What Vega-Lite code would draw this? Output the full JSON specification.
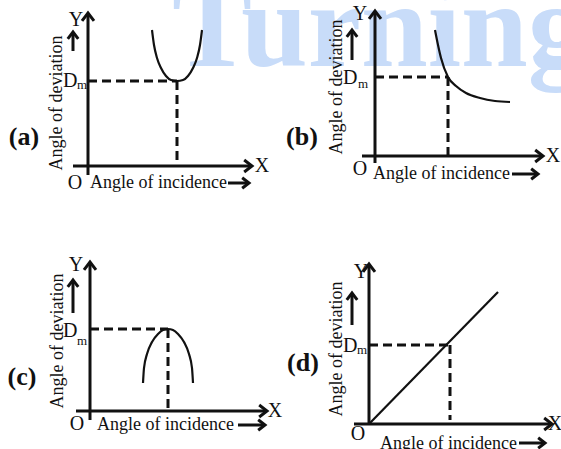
{
  "$schema": "https://vega.github.io/schema/vega-lite/v6.json",
  "width": 561,
  "height": 449,
  "autosize": {"type": "none"},
  "padding": 0,
  "background": "white",
  "config": {"view": {"stroke": null}},
  "datasets": {
    "watermark": [{"x": 172, "y": 66, "t": "Turning"}],
    "solid": [
      {"x": 88, "y": 14, "x2": 88, "y2": 175},
      {"x": 73, "y": 166, "x2": 252, "y2": 166},
      {"x": 228, "y": 183, "x2": 248, "y2": 183},
      {"x": 73, "y": 33, "x2": 73, "y2": 51},
      {"x": 375, "y": 12, "x2": 375, "y2": 163},
      {"x": 362, "y": 156, "x2": 543, "y2": 156},
      {"x": 512, "y": 174, "x2": 537, "y2": 174},
      {"x": 352, "y": 31, "x2": 352, "y2": 60},
      {"x": 90, "y": 263, "x2": 90, "y2": 420},
      {"x": 76, "y": 411, "x2": 267, "y2": 411},
      {"x": 238, "y": 425, "x2": 264, "y2": 425},
      {"x": 73, "y": 281, "x2": 73, "y2": 313},
      {"x": 369, "y": 265, "x2": 369, "y2": 423},
      {"x": 354, "y": 424, "x2": 552, "y2": 424},
      {"x": 519, "y": 443, "x2": 544, "y2": 443},
      {"x": 352, "y": 294, "x2": 352, "y2": 325}
    ],
    "dashed": [
      {"x": 88, "y": 81, "x2": 177, "y2": 81},
      {"x": 177, "y": 81, "x2": 177, "y2": 162},
      {"x": 375, "y": 77, "x2": 448, "y2": 77},
      {"x": 448, "y": 77, "x2": 448, "y2": 155},
      {"x": 90, "y": 329, "x2": 168, "y2": 329},
      {"x": 168, "y": 329, "x2": 168, "y2": 408},
      {"x": 369, "y": 345, "x2": 450, "y2": 345},
      {"x": 450, "y": 345, "x2": 450, "y2": 420}
    ],
    "rightBig": [
      {"x": 252, "y": 166}, {"x": 543, "y": 156}, {"x": 267, "y": 411}, {"x": 552, "y": 424}
    ],
    "rightSmall": [
      {"x": 249, "y": 183}, {"x": 538, "y": 174}, {"x": 265, "y": 425}, {"x": 545, "y": 443}
    ],
    "upBig": [
      {"x": 88, "y": 13}, {"x": 375, "y": 11}, {"x": 90, "y": 262}, {"x": 369, "y": 264}
    ],
    "upSmall": [
      {"x": 73, "y": 32}, {"x": 352, "y": 30}, {"x": 73, "y": 280}, {"x": 352, "y": 293}
    ],
    "curves": [
      {"c": "a", "x": 152, "y": 30}, {"c": "a", "x": 154, "y": 45}, {"c": "a", "x": 157, "y": 58},
      {"c": "a", "x": 161, "y": 68}, {"c": "a", "x": 166, "y": 76}, {"c": "a", "x": 171, "y": 80},
      {"c": "a", "x": 177, "y": 81}, {"c": "a", "x": 183, "y": 80}, {"c": "a", "x": 188, "y": 76},
      {"c": "a", "x": 193, "y": 68}, {"c": "a", "x": 197, "y": 58}, {"c": "a", "x": 200, "y": 45},
      {"c": "a", "x": 202, "y": 30},
      {"c": "b", "x": 435, "y": 30}, {"c": "b", "x": 438, "y": 45}, {"c": "b", "x": 441, "y": 58},
      {"c": "b", "x": 448, "y": 77}, {"c": "b", "x": 456, "y": 86}, {"c": "b", "x": 466, "y": 93},
      {"c": "b", "x": 480, "y": 98}, {"c": "b", "x": 495, "y": 101}, {"c": "b", "x": 510, "y": 102},
      {"c": "c", "x": 143, "y": 383}, {"c": "c", "x": 144, "y": 368}, {"c": "c", "x": 147, "y": 354},
      {"c": "c", "x": 152, "y": 342}, {"c": "c", "x": 158, "y": 334}, {"c": "c", "x": 163, "y": 330},
      {"c": "c", "x": 168, "y": 329}, {"c": "c", "x": 173, "y": 330}, {"c": "c", "x": 178, "y": 334},
      {"c": "c", "x": 184, "y": 342}, {"c": "c", "x": 189, "y": 354}, {"c": "c", "x": 192, "y": 368},
      {"c": "c", "x": 193, "y": 383},
      {"c": "d", "x": 369, "y": 424}, {"c": "d", "x": 498, "y": 292}
    ],
    "xyo": [
      {"x": 76, "y": 20, "t": "Y"}, {"x": 262, "y": 166, "t": "X"}, {"x": 75, "y": 183, "t": "O"},
      {"x": 360, "y": 14, "t": "Y"}, {"x": 553, "y": 156, "t": "X"}, {"x": 360, "y": 169, "t": "O"},
      {"x": 76, "y": 265, "t": "Y"}, {"x": 275, "y": 411, "t": "X"}, {"x": 77, "y": 424, "t": "O"},
      {"x": 361, "y": 272, "t": "Y"}, {"x": 555, "y": 424, "t": "X"}, {"x": 358, "y": 434, "t": "O"}
    ],
    "incidence": [
      {"x": 90, "y": 188, "t": "Angle of incidence"},
      {"x": 373, "y": 179, "t": "Angle of incidence"},
      {"x": 97, "y": 430, "t": "Angle of incidence"},
      {"x": 380, "y": 449, "t": "Angle of incidence"}
    ],
    "deviation": [
      {"x": 62, "y": 103, "t": "Angle of deviation"},
      {"x": 342, "y": 87, "t": "Angle of deviation"},
      {"x": 63, "y": 341, "t": "Angle of deviation"},
      {"x": 342, "y": 349, "t": "Angle of deviation"}
    ],
    "panels": [
      {"x": 24, "y": 137, "t": "(a)"}, {"x": 302, "y": 137, "t": "(b)"},
      {"x": 22, "y": 377, "t": "(c)"}, {"x": 303, "y": 363, "t": "(d)"}
    ],
    "dLetters": [
      {"x": 63, "y": 87, "t": "D"}, {"x": 343, "y": 84, "t": "D"},
      {"x": 63, "y": 337, "t": "D"}, {"x": 343, "y": 352, "t": "D"}
    ],
    "mLetters": [
      {"x": 77, "y": 89, "t": "m"}, {"x": 358, "y": 88, "t": "m"},
      {"x": 77, "y": 345, "t": "m"}, {"x": 357, "y": 354, "t": "m"}
    ]
  },
  "encoding": {
    "x": {"field": "x", "type": "quantitative", "scale": {"domain": [0, 561], "nice": false, "zero": false}, "axis": null},
    "y": {"field": "y", "type": "quantitative", "scale": {"domain": [0, 449], "nice": false, "zero": false, "reverse": true}, "axis": null}
  },
  "layer": [
    {
      "data": {"name": "watermark"},
      "mark": {"type": "text", "font": "Liberation Serif", "fontWeight": "bold", "fontSize": 120, "color": "#c8dcf9", "align": "left", "baseline": "alphabetic"},
      "encoding": {"text": {"field": "t"}}
    },
    {
      "data": {"name": "solid"},
      "mark": {"type": "rule", "color": "#111111", "strokeWidth": 3, "strokeCap": "butt"},
      "encoding": {"x2": {"field": "x2"}, "y2": {"field": "y2"}}
    },
    {
      "data": {"name": "dashed"},
      "mark": {"type": "rule", "color": "#111111", "strokeWidth": 3, "strokeDash": [9, 5], "strokeCap": "butt"},
      "encoding": {"x2": {"field": "x2"}, "y2": {"field": "y2"}}
    },
    {
      "data": {"name": "rightBig"},
      "mark": {"type": "point", "shape": "M-1.3,-1L0,0L-1.3,1", "filled": false, "color": "#111111", "opacity": 1, "strokeWidth": 3, "size": 144}
    },
    {
      "data": {"name": "rightSmall"},
      "mark": {"type": "point", "shape": "M-1.3,-1L0,0L-1.3,1", "filled": false, "color": "#111111", "opacity": 1, "strokeWidth": 3, "size": 110}
    },
    {
      "data": {"name": "upBig"},
      "mark": {"type": "point", "shape": "M-1,1.3L0,0L1,1.3", "filled": false, "color": "#111111", "opacity": 1, "strokeWidth": 3, "size": 144}
    },
    {
      "data": {"name": "upSmall"},
      "mark": {"type": "point", "shape": "M-1,1.3L0,0L1,1.3", "filled": false, "color": "#111111", "opacity": 1, "strokeWidth": 3, "size": 110}
    },
    {
      "data": {"name": "curves"},
      "mark": {"type": "line", "color": "#111111", "strokeWidth": 2.2, "interpolate": "monotone"},
      "encoding": {"detail": {"field": "c"}}
    },
    {
      "data": {"name": "xyo"},
      "mark": {"type": "text", "font": "Liberation Serif", "fontSize": 20, "color": "#111111", "align": "center", "baseline": "middle"},
      "encoding": {"text": {"field": "t"}}
    },
    {
      "data": {"name": "incidence"},
      "mark": {"type": "text", "font": "Liberation Serif", "fontSize": 18, "color": "#111111", "align": "left", "baseline": "alphabetic"},
      "encoding": {"text": {"field": "t"}}
    },
    {
      "data": {"name": "deviation"},
      "mark": {"type": "text", "font": "Liberation Serif", "fontSize": 18, "color": "#111111", "align": "center", "baseline": "alphabetic", "angle": 270},
      "encoding": {"text": {"field": "t"}}
    },
    {
      "data": {"name": "panels"},
      "mark": {"type": "text", "font": "Liberation Serif", "fontSize": 26, "fontWeight": "bold", "color": "#111111", "align": "center", "baseline": "middle"},
      "encoding": {"text": {"field": "t"}}
    },
    {
      "data": {"name": "dLetters"},
      "mark": {"type": "text", "font": "Liberation Serif", "fontSize": 20, "color": "#111111", "align": "left", "baseline": "alphabetic"},
      "encoding": {"text": {"field": "t"}}
    },
    {
      "data": {"name": "mLetters"},
      "mark": {"type": "text", "font": "Liberation Serif", "fontSize": 13, "color": "#111111", "align": "left", "baseline": "alphabetic"},
      "encoding": {"text": {"field": "t"}}
    }
  ]
}
